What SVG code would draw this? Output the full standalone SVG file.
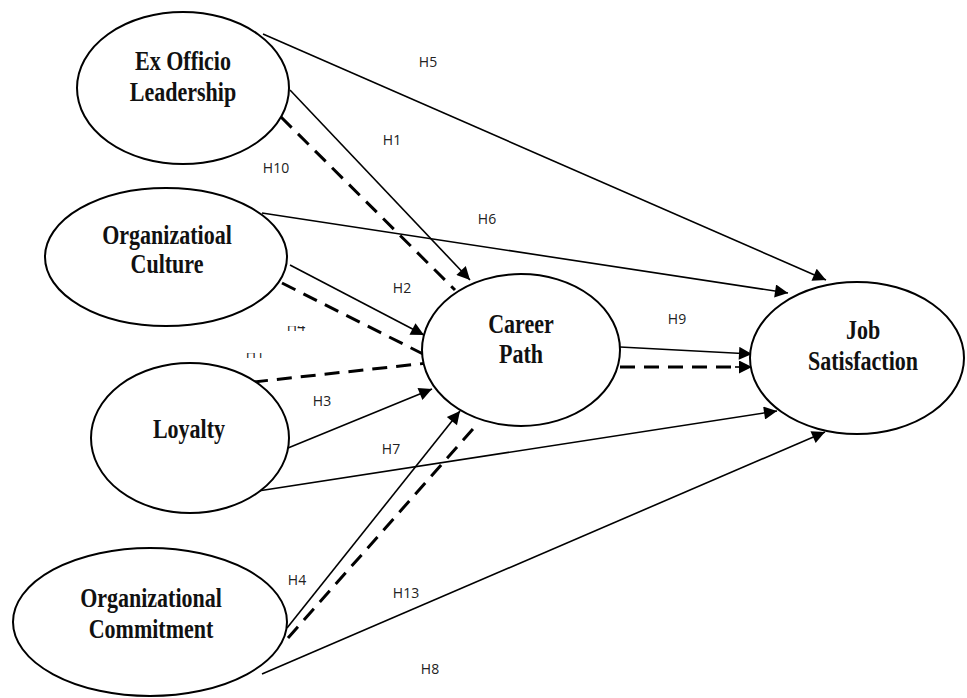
<svg xmlns="http://www.w3.org/2000/svg" width="967" height="698" viewBox="0 0 967 698">
<style>
.node ellipse{fill:#fff;stroke:#000;stroke-width:2}
.nt{font-family:"Liberation Serif","Times New Roman",serif;font-weight:bold;font-size:22px;fill:#111;text-anchor:middle}
.lbl{font-family:"Open Sans","Liberation Sans",sans-serif;font-size:14px;fill:#222;text-anchor:middle}
.s{stroke:#000;stroke-width:1.6;fill:none}
.d{stroke:#000;stroke-width:3;fill:none;stroke-dasharray:15 9}
</style>
<defs>
<marker id="ah" viewBox="0 0 10 10" refX="10" refY="5" markerWidth="17" markerHeight="13" markerUnits="userSpaceOnUse" orient="auto">
<path d="M0,0 L10,5 L0,10 z" fill="#000"/>
</marker>
<clipPath id="cl1"><rect x="280" y="326" width="40" height="8"/></clipPath>
<clipPath id="cl2"><rect x="240" y="353" width="40" height="8"/></clipPath>
</defs>
<rect width="967" height="698" fill="#fff"/>
<g id="connectors">
<line class="s" x1="263" y1="34" x2="826" y2="280" marker-end="url(#ah)"/>
<line class="s" x1="290" y1="90" x2="470" y2="280" marker-end="url(#ah)"/>
<line class="d" x1="281" y1="117" x2="455" y2="290"/>
<line class="s" x1="262" y1="213" x2="788" y2="293" marker-end="url(#ah)"/>
<line class="s" x1="290" y1="265" x2="424" y2="335" marker-end="url(#ah)"/>
<line class="d" x1="282" y1="283" x2="425" y2="355"/>
<line class="d" x1="253" y1="382" x2="428" y2="363"/>
<line class="s" x1="288" y1="448" x2="432" y2="389" marker-end="url(#ah)"/>
<line class="s" x1="258" y1="491" x2="777" y2="411" marker-end="url(#ah)"/>
<line class="s" x1="287" y1="628" x2="460" y2="411" marker-end="url(#ah)"/>
<line class="d" x1="288" y1="638" x2="473" y2="429"/>
<line class="s" x1="262" y1="674" x2="825" y2="432" marker-end="url(#ah)"/>
<line class="s" x1="620" y1="347" x2="752" y2="354" marker-end="url(#ah)"/>
<line class="d" x1="620" y1="367" x2="740" y2="367"/>
<line class="s" x1="735" y1="367" x2="752" y2="367" marker-end="url(#ah)"/>
</g>
<g id="n-exofficio" class="node">
<ellipse cx="183" cy="88" rx="106" ry="76"/>
<text class="nt" transform="translate(183 70) scale(1 1.25)">Ex Officio</text>
<text class="nt" transform="translate(183 101) scale(1 1.25)">Leadership</text>
</g>
<g id="n-culture" class="node">
<ellipse cx="166" cy="257" rx="121" ry="69"/>
<text class="nt" transform="translate(167 244) scale(1 1.25)">Organizatioal</text>
<text class="nt" transform="translate(167 273) scale(1 1.25)">Culture</text>
</g>
<g id="n-loyalty" class="node">
<ellipse cx="190" cy="438" rx="99" ry="75"/>
<text class="nt" transform="translate(189 438) scale(1 1.25)">Loyalty</text>
</g>
<g id="n-commitment" class="node">
<ellipse cx="150" cy="622" rx="137" ry="74"/>
<text class="nt" transform="translate(151 607) scale(1 1.25)">Organizational</text>
<text class="nt" transform="translate(151 638) scale(1 1.25)">Commitment</text>
</g>
<g id="n-career" class="node">
<ellipse cx="521" cy="350" rx="99" ry="76"/>
<text class="nt" transform="translate(521 333) scale(1 1.25)">Career</text>
<text class="nt" transform="translate(521 363) scale(1 1.25)">Path</text>
</g>
<g id="n-job" class="node">
<ellipse cx="857" cy="358" rx="107" ry="76"/>
<text class="nt" transform="translate(863 339) scale(1 1.25)">Job</text>
<text class="nt" transform="translate(863 370) scale(1 1.25)">Satisfaction</text>
</g>
<g id="labels">
<text class="lbl" x="428" y="67">H5</text>
<text class="lbl" x="392" y="145">H1</text>
<text class="lbl" x="276" y="173">H10</text>
<text class="lbl" x="487" y="224">H6</text>
<text class="lbl" x="402" y="293">H2</text>
<text class="lbl" x="677" y="324">H9</text>
<text class="lbl" x="322" y="406">H3</text>
<text class="lbl" x="391" y="454">H7</text>
<text class="lbl" x="297" y="585">H4</text>
<text class="lbl" x="406" y="598">H13</text>
<text class="lbl" x="430" y="674">H8</text>
<text class="lbl" x="296" y="331" clip-path="url(#cl1)">H4</text>
<text class="lbl" x="255" y="358" clip-path="url(#cl2)">H1</text>
</g>
</svg>
